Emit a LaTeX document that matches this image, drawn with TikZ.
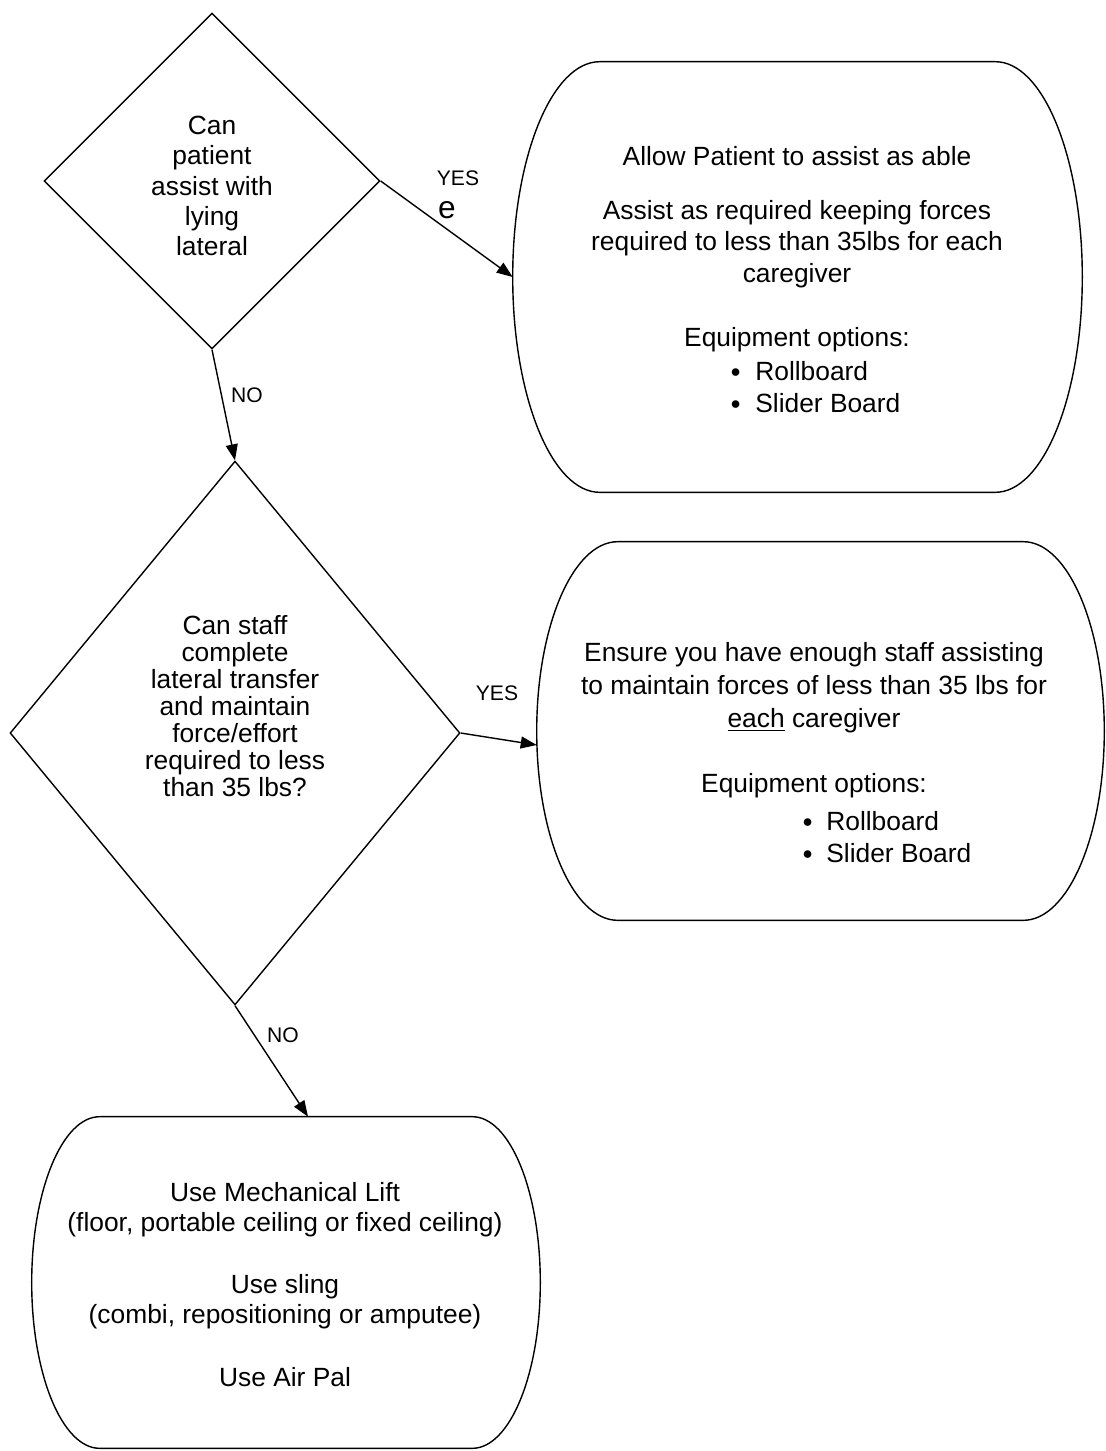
\documentclass[tikz,border=0pt]{standalone}
\usepackage{fontspec}
\setmainfont{Liberation Sans}
\usepackage{tikz}
\usetikzlibrary{arrows.meta,positioning,shapes.geometric,calc}
\tikzset{
  decision/.style={diamond,draw=black,line width=0.8pt,inner sep=0pt,aspect=1},
  qtext/.style={align=center,inner sep=0pt,font=\fontsize{15}{17.3}\selectfont},
  terminal/.style={draw=none,inner sep=0pt},
  ttext/.style={align=center,inner sep=0pt,font=\fontsize{15}{17.9}\selectfont},
  tlist/.style={align=left,inner sep=0pt,anchor=west,font=\fontsize{15}{18.1}\selectfont},
  ar/.style={-{Triangle[length=3.2mm,width=2.4mm]},draw=black,line width=0.8pt},
  lbl/.style={inner sep=0pt,font=\fontsize{12}{14}\selectfont},
}
% outline of a terminal: flat top and bottom, half ellipses on the sides
\newcommand{\termshape}[2]{%
  \draw[line width=0.8pt] let \p1=(#1.north west), \p2=(#1.south east), \n1={(\y1-\y2)/2} in
    (\x1+#2,\y1) -- (\x2-#2,\y1)
    arc[start angle=90,end angle=-90,x radius=#2,y radius=\n1]
    -- (\x1+#2,\y2)
    arc[start angle=270,end angle=90,x radius=#2,y radius=\n1] -- cycle;}
\newcommand{\bul}[1]{\makebox[#1][l]{\raisebox{0.12em}{\fontsize{10}{10}\selectfont ●}}}

\begin{document}
\begin{tikzpicture}[x=0.02cm,y=-0.02cm]
  \useasboundingbox (0,0) rectangle (1106,1451);

  % questions
  \node[decision,minimum width=6.72cm,minimum height=6.72cm] (q1) at (212,181) {};
  \node[qtext] (q1txt) at (212,186) {Can\\patient\\assist with\\lying\\lateral};
  \node[decision,minimum width=9cm,minimum height=10.88cm] (q2) at (235,733) {};
  \node[qtext,font=\fontsize{15}{15.4}\selectfont] (q2txt) at (235,706)
    {Can staff\\complete\\lateral transfer\\and maintain\\force/effort\\required to less\\than 35 lbs?};

  % outcomes
  \node[terminal,minimum width=11.38cm,minimum height=8.6cm] (t1) at (797.5,277) {};
  \termshape{t1}{1.74cm}
  \node[ttext] (t1txt) at (797,249) {Allow Patient to assist as able\\[0.45cm]
    Assist as required keeping forces\\required to less than 35lbs for each\\caregiver\\[0.65cm]
    Equipment options:};
  \node[tlist] (t1list) at (730,387) {\bul{0.5cm}Rollboard\\\bul{0.5cm}Slider Board};

  \node[terminal,minimum width=11.34cm,minimum height=7.56cm] (t2) at (820.5,731) {};
  \termshape{t2}{1.62cm}
  \node[ttext,font=\fontsize{15}{18.7}\selectfont] (t2txt) at (814,720)
    {Ensure you have enough staff assisting\\to maintain forces of less than 35 lbs for\\
    \underline{each} caregiver\\[0.64cm]Equipment options:};
  \node[tlist] (t2list) at (802,837) {\bul{0.48cm}Rollboard\\\bul{0.48cm}Slider Board};

  \node[terminal,minimum width=10.16cm,minimum height=6.62cm] (t3) at (286,1282.5) {};
  \termshape{t3}{1.36cm}
  \node[ttext,font=\fontsize{15}{17}\selectfont] (t3txt) at (285,1284.5)
    {Use Mechanical Lift\\(floor, portable ceiling or fixed ceiling)\\[0.66cm]
    Use sling\\(combi, repositioning or amputee)\\[0.66cm]Use Air Pal};

  % connectors
  \draw[ar] (q1.east) -- (t1.west);
  \node[lbl] (yes1) at (458,178) {YES};
  \node[inner sep=0pt,font=\fontsize{18}{20}\selectfont] (yes1e) at (447,210) {e};
  \draw[ar] (q1.south) -- (q2.north);
  \node[lbl] (no1) at (247,395) {NO};
  \draw[ar] (q2.east) -- ([yshift=-2.8mm]t2.west);
  \node[lbl] (yes2) at (497,693) {YES};
  \draw[ar] (q2.south) -- ([xshift=4.4mm]t3.north);
  \node[lbl] (no2) at (283,1035) {NO};
\end{tikzpicture}
\end{document}
